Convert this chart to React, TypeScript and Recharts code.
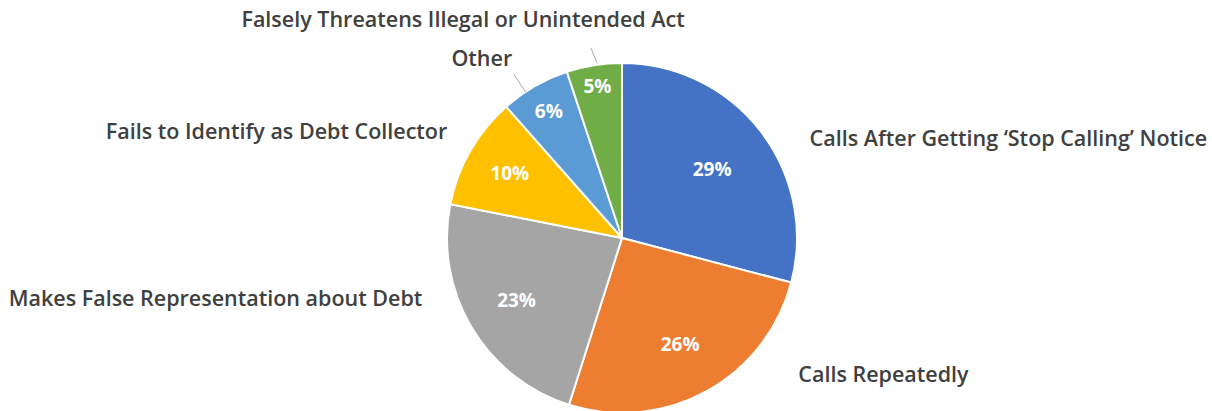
import { PieChart, Pie, Cell } from "recharts";

const categories = [
  "Calls After Getting \u2018Stop Calling\u2019 Notice",
  "Calls Repeatedly",
  "Makes False Representation about Debt",
  "Fails to Identify as Debt Collector",
  "Other",
  "Falsely Threatens Illegal or Unintended Act",
];

const shares = [29.1, 25.8, 23.2, 10.4, 6.4, 5.1];

const colors = ["#4472C4", "#ED7D31", "#A5A5A5", "#FFC000", "#5B9BD5", "#70AD47"];

// label placement relative to the slice edge at its mid angle
const nameOffsets = [
  { dx: 49, dy: 6, anchor: "start" },
  { dx: 92, dy: -18, anchor: "start" },
  { dx: -49, dy: -30, anchor: "end" },
  { dx: -23, dy: -20, anchor: "end" },
  { dx: -53, dy: -29, anchor: "middle" },
  { dx: -131, dy: -47, anchor: "middle" },
];
const pctRadius = [0.65, 0.69, 0.7, 0.74, 0.84, 0.88];
const leaders: Record<number, [number, number, number, number]> = {
  4: [-9, 6, -21, -12],
  5: [3, -2, -3, -17],
};

const data = categories.map((name, i) => ({ name, value: shares[i] }));

const RAD = Math.PI / 180;
const FONT = "'Open Sans', 'Liberation Sans', sans-serif";

const renderLabel = (props: any) => {
  const { cx, cy, midAngle, outerRadius, index, value } = props;
  const cos = Math.cos(-midAngle * RAD);
  const sin = Math.sin(-midAngle * RAD);
  const ex = cx + outerRadius * cos;
  const ey = cy + outerRadius * sin;
  const r = outerRadius * pctRadius[index];
  const px = cx + r * cos;
  const py = cy + r * sin;
  const off = nameOffsets[index];
  const lead = leaders[index];
  return (
    <g>
      <text
        x={px}
        y={py}
        fill="#fff"
        textAnchor="middle"
        dominantBaseline="central"
        fontFamily={FONT}
        fontWeight={700}
        fontSize={19}
      >
        {Math.round(value)}%
      </text>
      {lead && (
        <line
          x1={ex + lead[0]}
          y1={ey + lead[1]}
          x2={ex + lead[2]}
          y2={ey + lead[3]}
          stroke="#A6A6A6"
          strokeWidth={1}
        />
      )}
      <text
        x={ex + off.dx}
        y={ey + off.dy}
        fill="#404040"
        textAnchor={off.anchor as any}
        dominantBaseline="central"
        fontFamily={FONT}
        fontWeight={600}
        fontSize={21.5}
      >
        {categories[index]}
      </text>
    </g>
  );
};

export default function App() {
  return (
    <div style={{ position: "absolute", left: 0, top: 0, width: 1212, height: 411, background: "#fff" }}>
      <PieChart width={1212} height={411} margin={{ top: 0, right: 0, bottom: 0, left: 0 }}>
        <Pie
          data={data}
          dataKey="value"
          nameKey="name"
          cx={622}
          cy={238}
          outerRadius={175}
          startAngle={90}
          endAngle={-270}
          stroke="#fff"
          strokeWidth={2}
          label={renderLabel}
          labelLine={false}
          isAnimationActive={false}
        >
          {data.map((d, i) => (
            <Cell key={d.name} fill={colors[i]} />
          ))}
        </Pie>
      </PieChart>
    </div>
  );
}
